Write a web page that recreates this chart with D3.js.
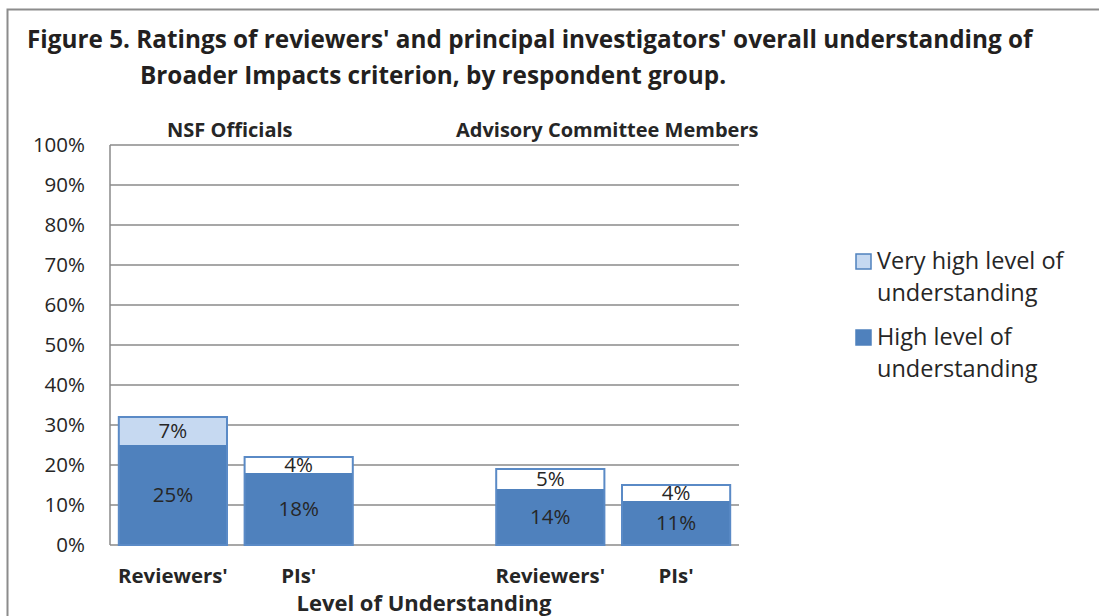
<!DOCTYPE html>
<html>
<head>
<meta charset="utf-8">
<script src="https://cdn.jsdelivr.net/npm/d3@7"></script>
<style>
  body { margin: 0; background: #fff; }
  text { font-family: "Open Sans", Lato, sans-serif; fill: #262626; }
</style>
</head>
<body>
<svg id="chart" width="1099" height="616"></svg>
<script>
// data
var groups = ["NSF Officials", "Advisory Committee Members"];
var categories = ["Reviewers'", "PIs'", "", "Reviewers'", "PIs'"];
var slotGroup = [0, 0, null, 1, 1];
var highValues = [25, 18, null, 14, 11];
var veryHighValues = [7, 4, null, 5, 4];
var yTicks = [0, 10, 20, 30, 40, 50, 60, 70, 80, 90, 100];
var seriesNames = ["Very high level of understanding", "High level of understanding"];

var svg = d3.select("#chart");
var plotLeft = 110, plotRight = 739, plotTop = 145, plotBottom = 545;
var blue = "#4F81BD", light = "#C6D9F1";

// outer frame
svg.append("rect")
    .attr("x", 7.5).attr("y", 9.5)
    .attr("width", 1100).attr("height", 620)
    .attr("fill", "none").attr("stroke", "#8c8c8c").attr("stroke-width", 2);

// title
var title = svg.append("text").attr("font-weight", "bold").attr("font-size", 24.3).style("fill", "#231f20");
title.append("tspan").attr("x", 27).attr("y", 48)
    .text("Figure 5. Ratings of reviewers' and principal investigators' overall understanding of");
title.append("tspan").attr("x", 140).attr("y", 84)
    .text("Broader Impacts criterion, by respondent group.");

var x = d3.scaleBand()
    .domain(d3.range(categories.length))
    .range([plotLeft, plotRight])
    .paddingInner(0.14)
    .paddingOuter(0.07);

var y = d3.scaleLinear().domain([0, 100]).range([plotBottom, plotTop]);

// gridlines
svg.append("g").selectAll("line").data(yTicks).join("line")
    .attr("x1", plotLeft).attr("x2", plotRight)
    .attr("y1", function(d){ return y(d); })
    .attr("y2", function(d){ return y(d); })
    .attr("stroke", "#8a8a8a").attr("stroke-width", 1.5);

svg.append("line")
    .attr("x1", plotLeft).attr("x2", plotLeft).attr("y1", plotTop).attr("y2", plotBottom)
    .attr("stroke", "#8a8a8a").attr("stroke-width", 1.5);

// y tick labels
svg.append("g").selectAll("text").data(yTicks).join("text")
    .attr("x", 85)
    .attr("y", function(d){ return y(d); })
    .attr("dy", "0.35em")
    .attr("text-anchor", "end")
    .attr("font-size", 20.5)
    .text(function(d){ return d + "%"; });

var idx = d3.range(categories.length).filter(function(i){ return highValues[i] != null; });

// high segments
svg.append("g").selectAll("rect").data(idx).join("rect")
    .attr("x", function(i){ return x(i); })
    .attr("width", x.bandwidth())
    .attr("y", function(i){ return y(highValues[i]); })
    .attr("height", function(i){ return y(0) - y(highValues[i]); })
    .attr("fill", blue);

// very high segments (only the first one is shaded in the original)
svg.append("g").selectAll("rect").data(idx).join("rect")
    .attr("x", function(i){ return x(i); })
    .attr("width", x.bandwidth())
    .attr("y", function(i){ return y(highValues[i] + veryHighValues[i]); })
    .attr("height", function(i){ return y(highValues[i]) - y(highValues[i] + veryHighValues[i]); })
    .attr("fill", function(i){ return i === 0 ? light : "#fff"; });

// bar outlines
svg.append("g").selectAll("rect").data(idx).join("rect")
    .attr("x", function(i){ return x(i); })
    .attr("width", x.bandwidth())
    .attr("y", function(i){ return y(highValues[i] + veryHighValues[i]); })
    .attr("height", function(i){ return y(0) - y(highValues[i] + veryHighValues[i]); })
    .attr("fill", "none").attr("stroke", "#5a8ac6").attr("stroke-width", 2);

// value labels
svg.append("g").selectAll("text").data(idx).join("text")
    .attr("x", function(i){ return x(i) + x.bandwidth() / 2; })
    .attr("y", function(i){ return (y(0) + y(highValues[i])) / 2; })
    .attr("dy", "0.35em").attr("text-anchor", "middle").attr("font-size", 20.5)
    .text(function(i){ return highValues[i] + "%"; });

svg.append("g").selectAll("text").data(idx).join("text")
    .attr("x", function(i){ return x(i) + x.bandwidth() / 2; })
    .attr("y", function(i){ return (y(highValues[i]) + y(highValues[i] + veryHighValues[i])) / 2; })
    .attr("dy", "0.35em").attr("text-anchor", "middle").attr("font-size", 20.5)
    .text(function(i){ return veryHighValues[i] + "%"; });

// category labels
svg.append("g").selectAll("text").data(idx).join("text")
    .attr("x", function(i){ return x(i) + x.bandwidth() / 2; })
    .attr("y", 583)
    .attr("text-anchor", "middle").attr("font-size", 20.4).attr("font-weight", "bold")
    .text(function(i){ return categories[i]; });

// group labels above the plot
svg.append("g").selectAll("text").data(groups).join("text")
    .attr("x", function(g, gi){
        var s = idx.filter(function(i){ return slotGroup[i] === gi; });
        return (x(s[0]) + x(s[s.length - 1]) + x.bandwidth()) / 2 - 6;
    })
    .attr("y", 137)
    .attr("text-anchor", "middle").attr("font-size", 20).attr("font-weight", "bold")
    .text(function(g){ return g; });

// axis title
svg.append("text")
    .attr("x", 424).attr("y", 611)
    .attr("text-anchor", "middle").attr("font-size", 22).attr("font-weight", "bold")
    .text("Level of Understanding");

// legend
var legendRows = [
    { lines: ["Very high level of", "understanding"], fill: light, y: 269 },
    { lines: ["High level of", "understanding"], fill: blue, y: 345 }
];
var lg = svg.append("g").selectAll("g").data(legendRows).join("g");
lg.append("rect")
    .attr("x", 856).attr("y", function(d){ return d.y - 15; })
    .attr("width", 15).attr("height", 15)
    .attr("fill", function(d){ return d.fill; })
    .attr("stroke", blue).attr("stroke-width", 1.5);
lg.each(function(d){
    var t = d3.select(this).append("text").attr("font-size", 23.5);
    d.lines.forEach(function(l, k){
        t.append("tspan").attr("x", 877).attr("y", d.y + k * 32).text(l);
    });
});
</script>
</body>
</html>
